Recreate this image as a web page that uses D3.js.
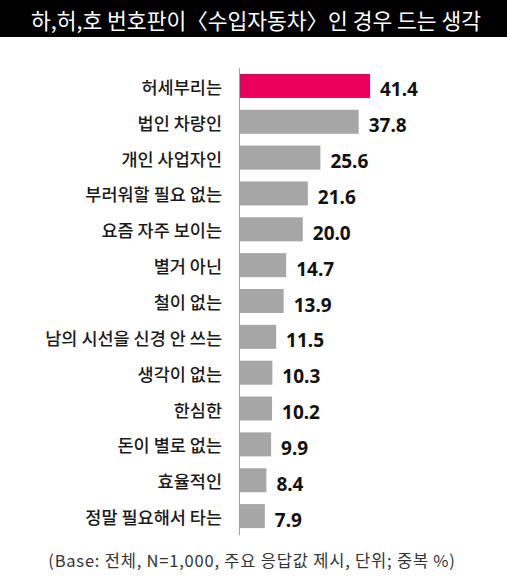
<!DOCTYPE html>
<html><head><meta charset="utf-8">
<script src="https://cdn.jsdelivr.net/npm/d3@7"></script>
<style>
html,body{margin:0;padding:0;background:#fff;}
svg{display:block;}
</style></head>
<body>
<div id="chart"></div>
<script>
const title = "하,허,호 번호판이〈수입자동차〉인 경우 드는 생각";
const footnote = "(Base: 전체, N=1,000, 주요 응답값 제시, 단위; 중복 %)";
const categories = ["허세부리는","법인 차량인","개인 사업자인","부러워할 필요 없는","요즘 자주 보이는","별거 아닌","철이 없는","남의 시선을 신경 안 쓰는","생각이 없는","한심한","돈이 별로 없는","효율적인","정말 필요해서 타는"];
const values = [41.4,37.8,25.6,21.6,20.0,14.7,13.9,11.5,10.3,10.2,9.9,8.4,7.9];
const highlight = ["허세부리는"];

const W = 507, H = 585;
const svg = d3.select("#chart").append("svg").attr("width", W).attr("height", H);
const kr = "'Noto Sans CJK KR','Noto Sans',sans-serif";

svg.append("rect").attr("x",0).attr("y",0).attr("width",W).attr("height",37).attr("fill","#000");
svg.append("text").attr("x",256).attr("y",19).attr("text-anchor","middle").attr("dominant-baseline","central")
  .attr("fill","#fff").attr("font-family",kr).attr("font-size",21.5).text(title);

const x0 = 240;
const x = d3.scaleLinear().domain([0, 41.4]).range([x0, 370]);
const y = d3.scaleBand().domain(categories).range([68, 534]).paddingInner(0.33).paddingOuter(0.165);

svg.append("line").attr("x1",239.5).attr("x2",239.5).attr("y1",68).attr("y2",535)
  .attr("stroke","#a0a0a0").attr("stroke-width",1);

const data = categories.map((c,i)=>({c, v: values[i]}));

svg.selectAll("rect.bar").data(data).enter().append("rect").attr("class","bar")
  .attr("x", x(0)).attr("y", d=>y(d.c)).attr("width", d=>x(d.v)-x(0)).attr("height", y.bandwidth())
  .attr("fill", d=>highlight.includes(d.c) ? "#e8005a" : "#a6a6a6");

svg.selectAll("text.lab").data(data).enter().append("text").attr("class","lab")
  .attr("x", 222).attr("y", d=>y(d.c)+y.bandwidth()/2+0.5).attr("text-anchor","end")
  .attr("dominant-baseline","central").attr("font-family",kr).attr("font-size",17.5).attr("font-weight",500)
  .attr("fill","#1a1a1a").text(d=>d.c);

svg.selectAll("text.val").data(data).enter().append("text").attr("class","val")
  .attr("x", d=>x(d.v)+10).attr("y", d=>y(d.c)+y.bandwidth()/2+3.5)
  .attr("dominant-baseline","central").attr("font-family","'Noto Sans',sans-serif").attr("font-weight","bold")
  .attr("font-size",19).attr("fill","#111").text(d=>d.v.toFixed(1));

svg.append("text").attr("x",252).attr("y",560).attr("text-anchor","middle").attr("dominant-baseline","central")
  .attr("font-family",kr).attr("font-size",16.5).attr("letter-spacing",0.8).attr("fill","#333").text(footnote);
</script>
</body></html>
